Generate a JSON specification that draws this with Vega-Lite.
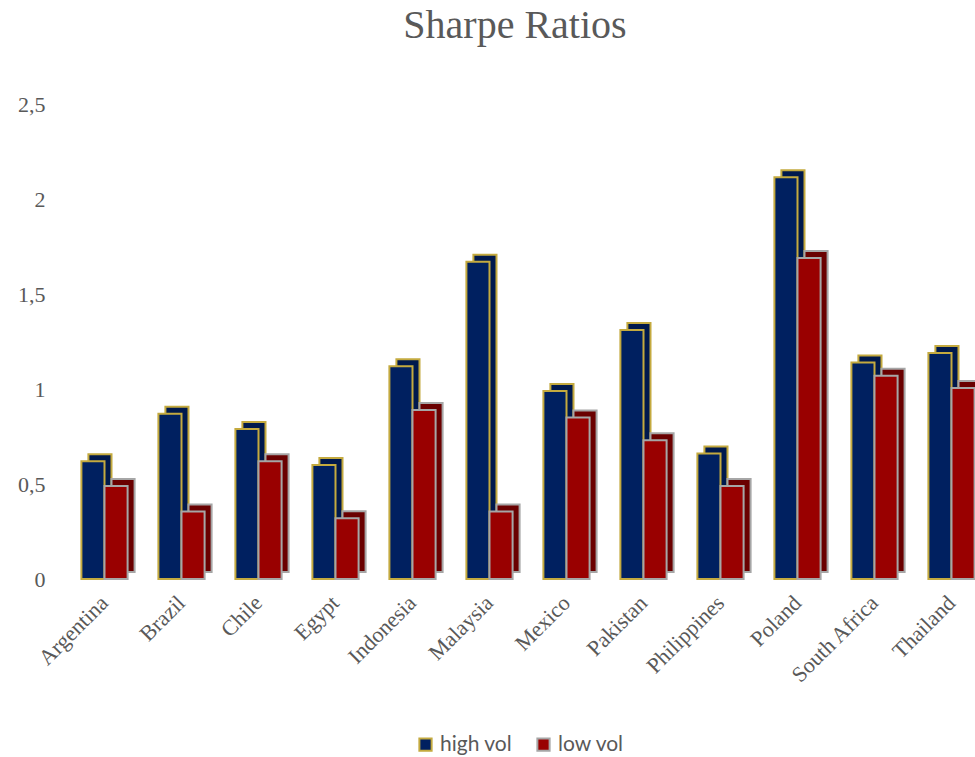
{
  "$schema": "https://vega.github.io/schema/vega-lite/v6.json",
  "autosize": "none",
  "width": 924,
  "height": 475,
  "padding": {"left": 66, "top": 104, "right": 0, "bottom": 178},
  "background": "white",
  "title": {
    "text": "Sharpe Ratios",
    "offset": 15,
    "baseline": "alphabetic",
    "dx": -13,
    "font": "Liberation Serif"
  },
  "config": {
    "view": {"stroke": null},
    "title": {
      "font": "Liberation Serif",
      "fontSize": 40,
      "fontWeight": "normal",
      "color": "#595959"
    },
    "locale": {
      "number": {"decimal": ",", "thousands": ".", "grouping": [3], "currency": ["", " €"]}
    }
  },
  "data": {
    "values": [
      {"country": "Argentina", "series": "high vol", "value": 0.62},
      {"country": "Argentina", "series": "low vol", "value": 0.49},
      {"country": "Brazil", "series": "high vol", "value": 0.87},
      {"country": "Brazil", "series": "low vol", "value": 0.355},
      {"country": "Chile", "series": "high vol", "value": 0.79},
      {"country": "Chile", "series": "low vol", "value": 0.62},
      {"country": "Egypt", "series": "high vol", "value": 0.60},
      {"country": "Egypt", "series": "low vol", "value": 0.32},
      {"country": "Indonesia", "series": "high vol", "value": 1.12},
      {"country": "Indonesia", "series": "low vol", "value": 0.89},
      {"country": "Malaysia", "series": "high vol", "value": 1.67},
      {"country": "Malaysia", "series": "low vol", "value": 0.355},
      {"country": "Mexico", "series": "high vol", "value": 0.99},
      {"country": "Mexico", "series": "low vol", "value": 0.85},
      {"country": "Pakistan", "series": "high vol", "value": 1.31},
      {"country": "Pakistan", "series": "low vol", "value": 0.73},
      {"country": "Philippines", "series": "high vol", "value": 0.66},
      {"country": "Philippines", "series": "low vol", "value": 0.49},
      {"country": "Poland", "series": "high vol", "value": 2.115},
      {"country": "Poland", "series": "low vol", "value": 1.69},
      {"country": "South Africa", "series": "high vol", "value": 1.14},
      {"country": "South Africa", "series": "low vol", "value": 1.07},
      {"country": "Thailand", "series": "high vol", "value": 1.19},
      {"country": "Thailand", "series": "low vol", "value": 1.005}
    ]
  },
  "encoding": {
    "x": {
      "field": "country",
      "type": "nominal",
      "sort": null,
      "scale": {"paddingInner": 0.4, "paddingOuter": 0.2},
      "axis": {
        "title": null,
        "domain": false,
        "ticks": false,
        "labelAngle": -45,
        "labelAlign": "right",
        "labelBaseline": "middle",
        "labelPadding": 20,
        "labelFont": "Liberation Serif",
        "labelFontSize": 22,
        "labelColor": "#595959"
      }
    },
    "y": {
      "field": "value",
      "type": "quantitative",
      "scale": {"domain": [0, 2.5], "nice": false},
      "axis": {
        "title": null,
        "values": [0, 0.5, 1, 1.5, 2, 2.5],
        "format": "~g",
        "domain": false,
        "ticks": false,
        "grid": false,
        "labelPadding": 21,
        "labelFont": "Liberation Serif",
        "labelFontSize": 22,
        "labelColor": "#595959"
      }
    }
  },
  "layer": [
    {
      "mark": {
        "type": "bar",
        "yOffset": -7,
        "y2Offset": -7,
        "strokeWidth": 2
      },
      "encoding": {
        "xOffset": {
          "field": "series",
          "type": "nominal",
          "scale": {"paddingInner": 0, "paddingOuter": 0, "range": [7, 53.2]}
        },
        "fill": {
          "field": "series",
          "type": "nominal",
          "scale": {"domain": ["high vol", "low vol"], "range": ["#00194d", "#6a0000"]},
          "legend": null
        },
        "stroke": {
          "field": "series",
          "type": "nominal",
          "scale": {"domain": ["high vol", "low vol"], "range": ["#c4aa3f", "#a6a6a6"]},
          "legend": null
        }
      }
    },
    {
      "mark": {"type": "bar", "strokeWidth": 2},
      "encoding": {
        "xOffset": {
          "field": "series",
          "type": "nominal",
          "scale": {"paddingInner": 0, "paddingOuter": 0}
        },
        "fill": {
          "field": "series",
          "type": "nominal",
          "title": null,
          "scale": {"domain": ["high vol", "low vol"], "range": ["#002060", "#990000"]},
          "legend": {
            "orient": "none",
            "direction": "horizontal",
            "legendX": 349,
            "legendY": 630,
            "symbolType": "square",
            "symbolSize": 150,
            "symbolStrokeWidth": 2,
            "labelFont": "Lato",
            "labelFontSize": 21,
            "labelColor": "#595959",
            "columnPadding": 20,
            "labelOffset": 4,
            "encode": {
              "symbols": {
                "update": {
                  "stroke": {"scale": "stroke", "field": "value"},
                  "strokeWidth": {"value": 2}
                }
              }
            }
          }
        },
        "stroke": {
          "field": "series",
          "type": "nominal",
          "title": null,
          "scale": {"domain": ["high vol", "low vol"], "range": ["#c4aa3f", "#a6a6a6"]},
          "legend": null
        }
      }
    }
  ],
  "resolve": {"scale": {"fill": "independent", "xOffset": "independent"}}
}
